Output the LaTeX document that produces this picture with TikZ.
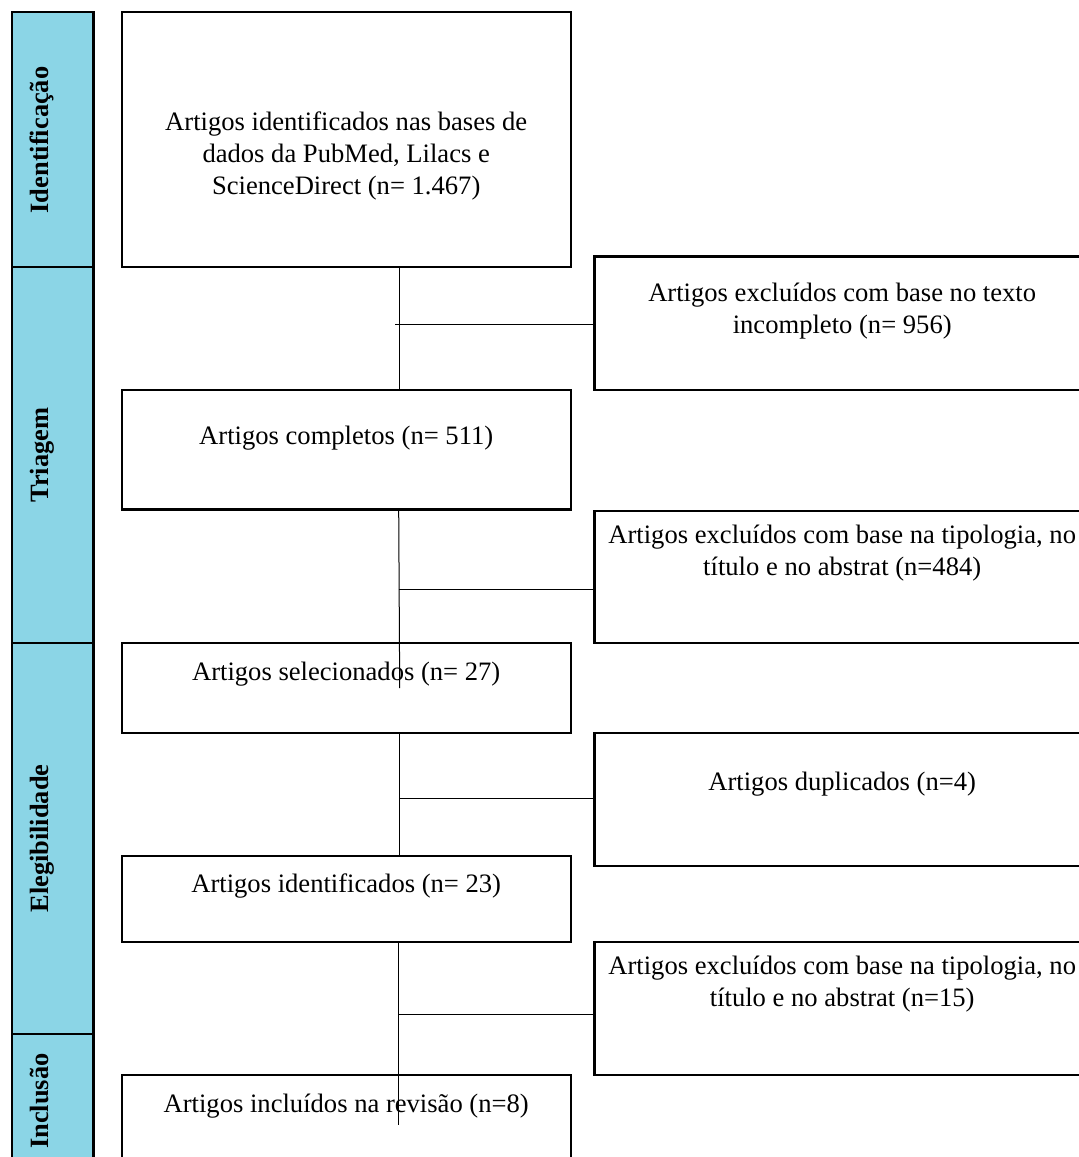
\documentclass[tikz,border=0pt]{standalone}
\usepackage{fontspec}
\setmainfont{Liberation Serif}
\definecolor{stageblue}{RGB}{139,213,230}
\usetikzlibrary{positioning,fit}

\begin{document}
\begin{tikzpicture}[x=0.5pt,y=-0.5pt,
  font=\fontsize{13.3}{16}\selectfont,
  stage/.style={draw,line width=1.2pt,fill=stageblue,inner sep=0pt,outer sep=0pt},
  stagelabel/.style={rotate=90,anchor=base,font=\fontsize{13.2}{16}\selectfont\bfseries,inner sep=0pt},
  box/.style={draw,line width=1.15pt,inner sep=0pt,outer sep=0pt},
  txt/.style={anchor=base,align=center,inner sep=0pt},
  link/.style={line width=0.5pt}]
  \clip (0,0) rectangle (1079,1157);
  \useasboundingbox (0,0) rectangle (1079,1157);
  % Stage column
  \node[stage,fit={(11.7,12) (93.3,267)}] (idcell) {};
  \node[stage,fit={(11.7,267) (93.3,643)}] (tricell) {};
  \node[stage,fit={(11.7,643) (93.3,1034)}] (elecell) {};
  \node[stage,fit={(11.7,1034) (93.3,1200)}] (inccell) {};
  \node[stagelabel] (idlab) at (48,140) {Identificação};
  \node[stagelabel] (trilab) at (48,455) {Triagem};
  \node[stagelabel] (elelab) at (48,838.5) {Elegibilidade};
  \node[stagelabel] (inclab) at (48,1101) {Inclusão};
  % Main flow (base = last line)
  \node[box,fit={(121.7,12) (570.7,267)}] (ident) {};
  \node[box,fit={(121.7,390) (570.7,509.5)}] (compl) {};
  \node[box,fit={(121.7,643) (570.7,732.7)}] (selec) {};
  \node[box,fit={(121.7,855.7) (570.7,942)}] (ident2) {};
  \node[box,fit={(121.7,1075) (570.7,1200)}] (inclu) {};
  \node[txt] (identtxt) at (346.2,194) {Artigos identificados nas bases de\\dados da PubMed, Lilacs e\\ScienceDirect (n= 1.467)};
  \node[txt] (compltxt) at (346.2,444) {Artigos completos (n= 511)};
  \node[txt] (selectxt) at (346.2,680) {Artigos selecionados (n= 27)};
  \node[txt] (ident2txt) at (346.2,892) {Artigos identificados (n= 23)};
  \node[txt] (inclutxt) at (346.2,1112) {Artigos incluídos na revisão (n=8)};
  % Exclusions
  \node[box,fit={(594.5,256.5) (1090,390)}] (excl1) {};
  \node[box,fit={(594.5,510.7) (1090,642.7)}] (excl2) {};
  \node[box,fit={(594.5,732.7) (1090,865.7)}] (excl3) {};
  \node[box,fit={(594.5,942) (1090,1075)}] (excl4) {};
  \node[txt] (excl1txt) at (842.2,333.7) {Artigos excluídos com base no texto\\incompleto (n= 956)};
  \node[txt] (excl2txt) at (842.2,575.7) {Artigos excluídos com base na tipologia, no\\título e no abstrat (n=484)};
  \node[txt] (excl3txt) at (842.2,790) {Artigos duplicados (n=4)};
  \node[txt] (excl4txt) at (842.2,1006.7) {Artigos excluídos com base na tipologia, no\\título e no abstrat (n=15)};
  % Connectors
  \coordinate (j1) at (399.3,324);
  \coordinate (j1s) at (395,324);
  \coordinate (j2) at (398.7,589);
  \coordinate (e2) at (399.7,688);
  \coordinate (j3) at (399,798);
  \coordinate (j4) at (398,1014);
  \coordinate (e4) at (398,1125);
  \draw[link] (ident.south -| j1) -- (compl.north -| j1);
  \draw[link] (j1s) -- (excl1.west |- j1s);
  \draw[link] (compl.south -| j2) -- (e2);
  \draw[link] (j2) -- (excl2.west |- j2);
  \draw[link] (selec.south -| j3) -- (ident2.north -| j3);
  \draw[link] (j3) -- (excl3.west |- j3);
  \draw[link] (ident2.south -| j4) -- (e4);
  \draw[link] (j4) -- (excl4.west |- j4);
\end{tikzpicture}
\end{document}
